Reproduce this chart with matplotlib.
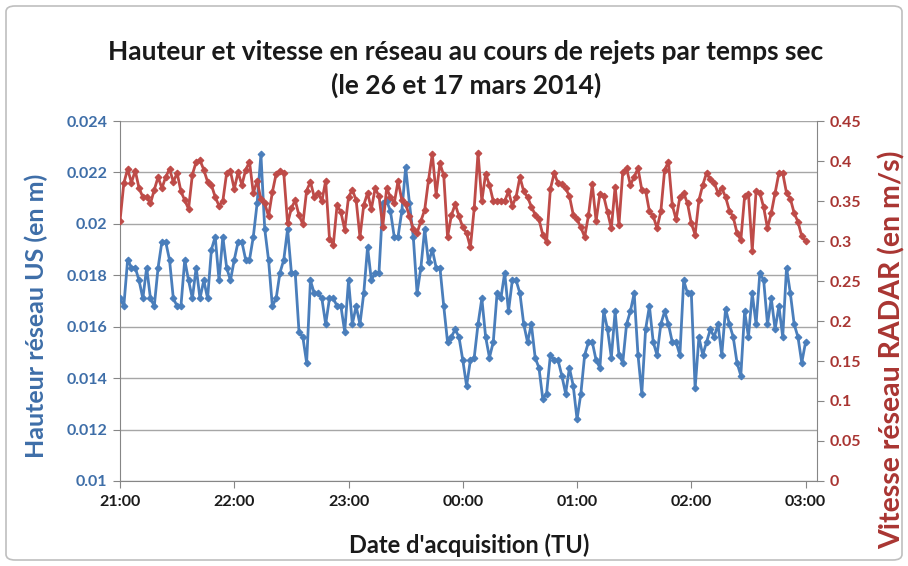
import numpy as np
import pandas as pd
import matplotlib
matplotlib.use("Agg")
import matplotlib.pyplot as plt
import matplotlib.dates as mdates
from matplotlib.patches import FancyBboxPatch

plt.rcParams['font.family'] = ['Lato', 'DejaVu Sans']

# ---------------- data ----------------
start_time = "2014-03-26 21:00"
n_points = 181          # one reading every 2 minutes, 21:00 -> 03:00
step = "2min"

hauteur_us = [
    0.0171, 0.0168, 0.0186, 0.0183, 0.0183, 0.0178, 0.0171, 0.0183, 0.0171, 0.0168,
    0.0183, 0.0193, 0.0193, 0.0186, 0.0171, 0.0168, 0.0168, 0.0186, 0.0178, 0.0171,
    0.0183, 0.0171, 0.0178, 0.0171, 0.0190, 0.0195, 0.0178, 0.0195, 0.0183, 0.0178,
    0.0186, 0.0193, 0.0193, 0.0186, 0.0186, 0.0195, 0.0208, 0.0227, 0.0198, 0.0186,
    0.0168, 0.0171, 0.0181, 0.0186, 0.0198, 0.0181, 0.0181, 0.0158, 0.0156, 0.0146,
    0.0178, 0.0173, 0.0173, 0.0171, 0.0161, 0.0171, 0.0171, 0.0168, 0.0168, 0.0158,
    0.0178, 0.0161, 0.0168, 0.0161, 0.0173, 0.0191, 0.0178, 0.0181, 0.0181, 0.0208,
    0.0209, 0.0205, 0.0195, 0.0195, 0.0205, 0.0222, 0.0208, 0.0195, 0.0173, 0.0183,
    0.0198, 0.0185, 0.0190, 0.0183, 0.0183, 0.0168, 0.0154, 0.0156, 0.0159, 0.0156,
    0.0147, 0.0137, 0.0147, 0.0148, 0.0161, 0.0171, 0.0156, 0.0148, 0.0154, 0.0173,
    0.0171, 0.0181, 0.0166, 0.0178, 0.0178, 0.0173, 0.0161, 0.0154, 0.0161, 0.0148,
    0.0144, 0.0132, 0.0134, 0.0149, 0.0147, 0.0147, 0.0141, 0.0134, 0.0144, 0.0137,
    0.0124, 0.0134, 0.0149, 0.0154, 0.0154, 0.0147, 0.0144, 0.0166, 0.0159, 0.0148,
    0.0166, 0.0149, 0.0146, 0.0161, 0.0166, 0.0173, 0.0149, 0.0134, 0.0159, 0.0168,
    0.0154, 0.0149, 0.0161, 0.0166, 0.0161, 0.0154, 0.0154, 0.0149, 0.0178, 0.0173,
    0.0173, 0.0136, 0.0156, 0.0149, 0.0154, 0.0159, 0.0156, 0.0161, 0.0149, 0.0167,
    0.0161, 0.0156, 0.0146, 0.0141, 0.0166, 0.0156, 0.0173, 0.0161, 0.0181, 0.0178,
    0.0161, 0.0171, 0.0159, 0.0168, 0.0156, 0.0183, 0.0173, 0.0161, 0.0156, 0.0146,
    0.0154,
]

vitesse_radar = [
    0.325, 0.372, 0.390, 0.373, 0.388, 0.366, 0.355, 0.355, 0.347, 0.364,
    0.380, 0.366, 0.380, 0.390, 0.374, 0.385, 0.362, 0.351, 0.340, 0.383,
    0.399, 0.401, 0.389, 0.374, 0.370, 0.355, 0.344, 0.350, 0.385, 0.387,
    0.365, 0.386, 0.370, 0.389, 0.399, 0.360, 0.375, 0.352, 0.347, 0.331,
    0.361, 0.384, 0.388, 0.385, 0.322, 0.341, 0.351, 0.332, 0.321, 0.363,
    0.374, 0.355, 0.360, 0.350, 0.375, 0.303, 0.295, 0.345, 0.336, 0.314,
    0.355, 0.364, 0.351, 0.305, 0.345, 0.360, 0.340, 0.366, 0.356, 0.318,
    0.366, 0.355, 0.347, 0.375, 0.351, 0.346, 0.331, 0.315, 0.310, 0.325,
    0.339, 0.376, 0.409, 0.358, 0.397, 0.382, 0.305, 0.332, 0.346, 0.331,
    0.317, 0.310, 0.292, 0.341, 0.410, 0.350, 0.384, 0.370, 0.350, 0.350,
    0.350, 0.350, 0.362, 0.344, 0.355, 0.380, 0.362, 0.355, 0.343, 0.333,
    0.327, 0.308, 0.299, 0.365, 0.385, 0.372, 0.371, 0.366, 0.356, 0.333,
    0.327, 0.317, 0.305, 0.332, 0.371, 0.325, 0.359, 0.356, 0.336, 0.316,
    0.368, 0.320, 0.386, 0.391, 0.370, 0.380, 0.391, 0.364, 0.363, 0.337,
    0.331, 0.316, 0.337, 0.389, 0.399, 0.345, 0.327, 0.355, 0.360, 0.347,
    0.322, 0.308, 0.351, 0.370, 0.385, 0.377, 0.373, 0.360, 0.366, 0.355,
    0.338, 0.330, 0.310, 0.301, 0.356, 0.359, 0.288, 0.362, 0.360, 0.342,
    0.316, 0.335, 0.360, 0.385, 0.385, 0.360, 0.353, 0.335, 0.324, 0.306,
    0.300,
]

x_tick_labels = ["21:00", "22:00", "23:00", "00:00", "01:00", "02:00", "03:00"]
left_ticks = [0.01, 0.012, 0.014, 0.016, 0.018, 0.02, 0.022, 0.024]
left_tick_labels = ["0.01", "0.012", "0.014", "0.016", "0.018", "0.02", "0.022", "0.024"]
right_ticks = [0, 0.05, 0.1, 0.15, 0.2, 0.25, 0.3, 0.35, 0.4, 0.45]
right_tick_labels = ["0", "0.05", "0.1", "0.15", "0.2", "0.25", "0.3", "0.35", "0.4", "0.45"]

title = "Hauteur et vitesse en réseau au cours de rejets par temps sec\n(le 26 et 17 mars 2014)"
xlabel = "Date d'acquisition (TU)"
ylabel_left = "Hauteur réseau US (en m)"
ylabel_right = "Vitesse réseau RADAR (en m/s)"

# ---------------- styles ----------------
BLUE = "#4A7EBB"
RED = "#BE4B48"
BLUE_TXT = "#3E6EA8"
RED_TXT = "#A93532"
GRID = "#A6A6A6"

times = pd.date_range(start_time, periods=n_points, freq=step)
tick_times = pd.date_range(start_time, periods=len(x_tick_labels), freq="1h")

W, H = 908, 566
fig = plt.figure(figsize=(W / 100, H / 100), dpi=100)
fig.patch.set_facecolor("white")

# outer chart border
border = FancyBboxPatch((6 / W, 6 / H), (W - 12) / W, (H - 12) / H,
                        boxstyle="round,pad=0,rounding_size=0.01",
                        transform=fig.transFigure, fill=False,
                        edgecolor="#BFBFBF", linewidth=1.2)
fig.patches.append(border)

ax = fig.add_axes([120 / W, 85 / H, 697 / W, 360 / H])
ax2 = ax.twinx()

ax.plot(times, hauteur_us, color=BLUE, lw=2.0, marker="D", ms=3.4,
        markeredgewidth=0.8, zorder=3)
ax2.plot(times, vitesse_radar, color=RED, lw=2.0, marker="D", ms=3.4,
         markeredgewidth=0.8, zorder=3)

x0 = times[0]
ax.set_xlim(x0, x0 + pd.Timedelta(minutes=366))
ax.set_ylim(0.01, 0.024)
ax2.set_ylim(0, 0.45)

ax.set_yticks(left_ticks)
ax.set_yticklabels(left_tick_labels)
ax2.set_yticks(right_ticks)
ax2.set_yticklabels(right_tick_labels)
ax.set_xticks(tick_times)
ax.set_xticklabels(x_tick_labels)

ax.yaxis.grid(True, color=GRID, lw=1.0)
ax.set_axisbelow(True)

for a in (ax, ax2):
    for s in a.spines.values():
        s.set_visible(False)
ax.spines["left"].set_visible(True)
ax.spines["left"].set_color("#868686")
ax.spines["bottom"].set_visible(True)
ax.spines["bottom"].set_color("#868686")
ax2.spines["right"].set_visible(True)
ax2.spines["right"].set_color("#868686")

ax.tick_params(axis="y", colors="#868686", labelcolor=BLUE_TXT, labelsize=11.5,
               length=5, direction="out", pad=4)
ax.tick_params(axis="x", colors="#868686", labelcolor="#1A1A1A", labelsize=11.5,
               length=5, direction="out", pad=5)
ax2.tick_params(axis="y", colors="#868686", labelcolor=RED_TXT, labelsize=11.5,
                length=5, direction="out", pad=4)
for lab in ax.get_yticklabels() + ax.get_xticklabels() + ax2.get_yticklabels():
    lab.set_fontweight("bold")

fig.text(466 / W, 1 - 69 / H, title, ha="center", va="center", fontsize=19,
         fontweight="bold", color="#1A1A1A", linespacing=1.45)
fig.text(469 / W, 1 - 545 / H, xlabel, ha="center", va="center", fontsize=17,
         fontweight="bold", color="#1A1A1A")
fig.text(36 / W, 1 - 316 / H, ylabel_left, ha="center", va="center", rotation=90,
         fontsize=18, fontweight="bold", color=BLUE_TXT)
fig.text(892 / W, 1 - 350 / H, ylabel_right, ha="center", va="center", rotation=90,
         fontsize=20.5, fontweight="bold", color=RED_TXT)

fig.savefig("out.png", dpi=100)
